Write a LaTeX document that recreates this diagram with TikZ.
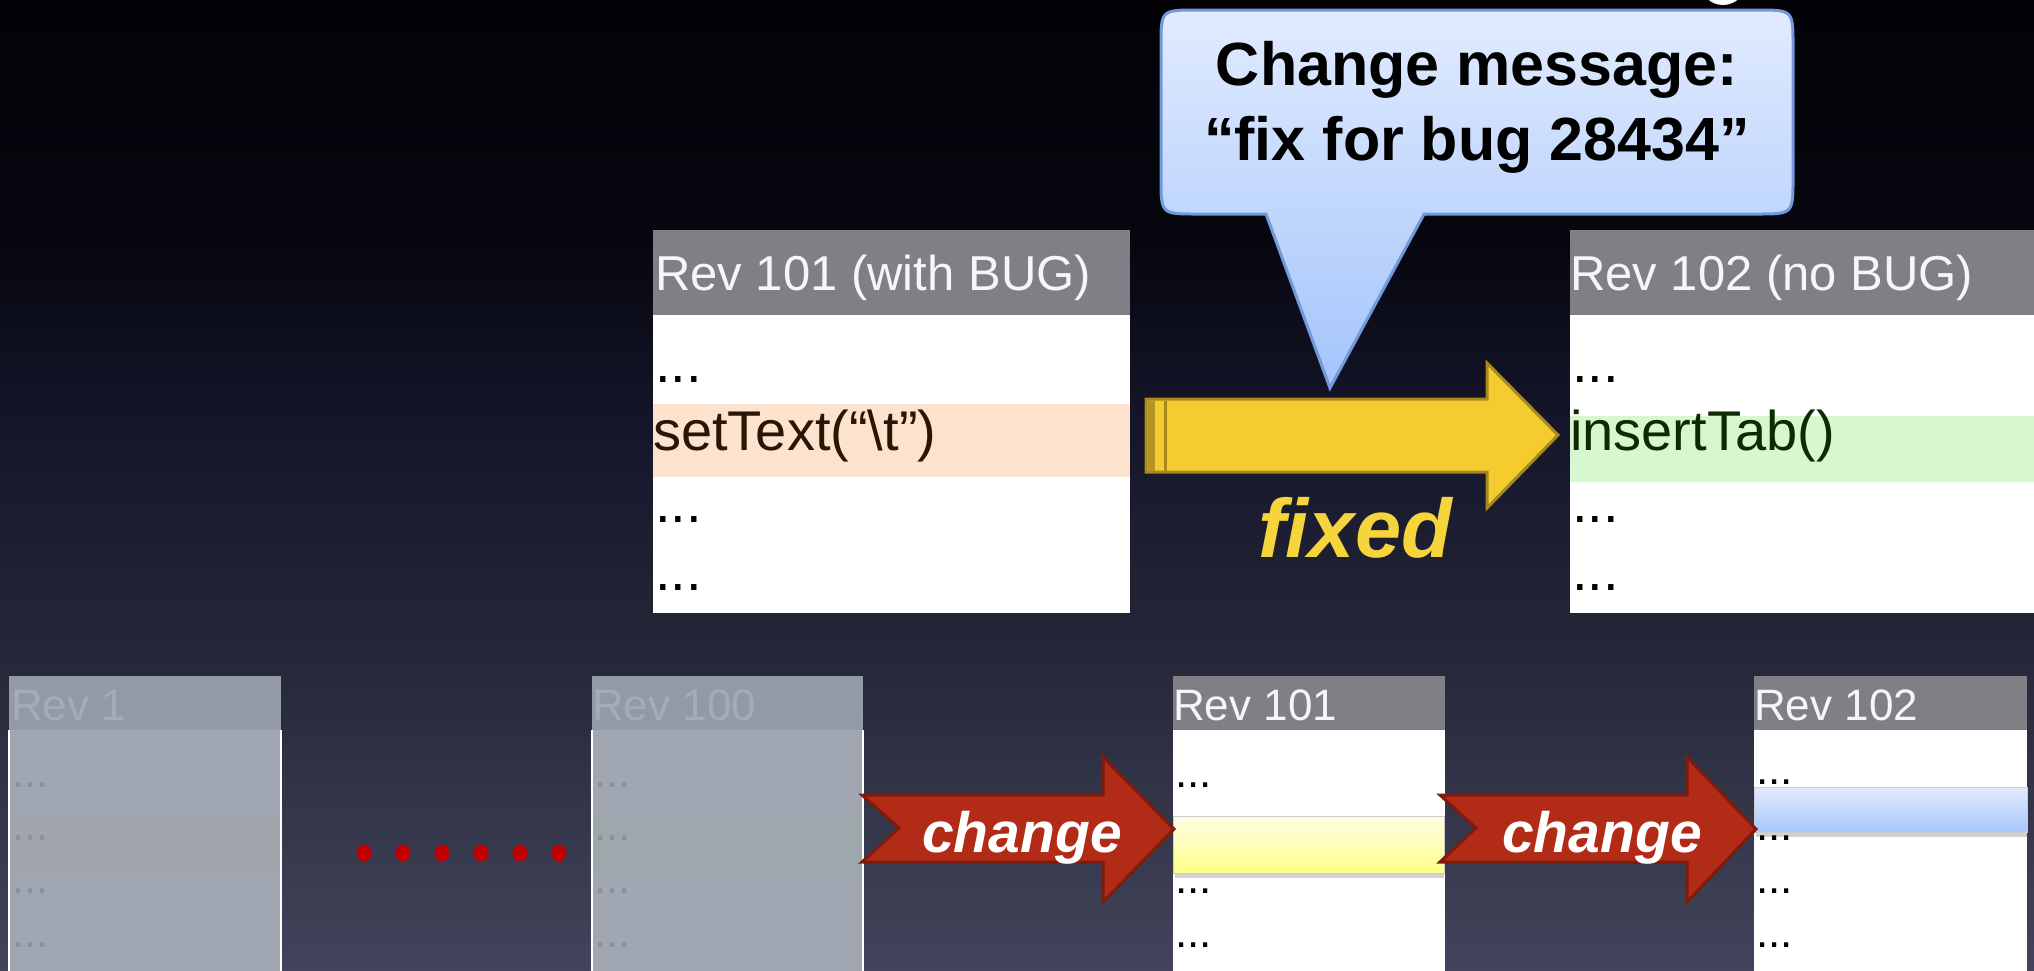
\documentclass[tikz,border=0pt]{standalone}
\usepackage{fontspec}
\setmainfont{Liberation Sans}
\usetikzlibrary{calc}

% palette
\definecolor{bgA}{HTML}{020207}
\definecolor{bgB}{HTML}{06060F}
\definecolor{bgC}{HTML}{15162A}
\definecolor{bgD}{HTML}{262839}
\definecolor{bgE}{HTML}{42445B}
\definecolor{hdrfill}{HTML}{807F85}
\definecolor{hdrtext}{HTML}{F6F6F6}
\definecolor{bugband}{HTML}{FDE3CD}
\definecolor{bugtext}{HTML}{2A1606}
\definecolor{okband}{HTML}{D6F7CF}
\definecolor{oktext}{HTML}{0D2A00}
\definecolor{bubtop}{HTML}{E1EBFE}
\definecolor{bubbot}{HTML}{A4C4FB}
\definecolor{bubline}{HTML}{7399DB}
\definecolor{goldfill}{HTML}{F4CC2F}
\definecolor{goldline}{HTML}{A8891C}
\definecolor{golddark}{HTML}{B49520}
\definecolor{fixedtext}{HTML}{F6D43C}
\definecolor{redfill}{HTML}{B22B17}
\definecolor{redline}{HTML}{7D1B0C}
\definecolor{dotred}{HTML}{C00000}
\definecolor{fadehdr}{HTML}{939AA7}
\definecolor{fadebody}{HTML}{A0A7B2}
\definecolor{fadebandA}{HTML}{A1A5AB}
\definecolor{fadebandB}{HTML}{9CA8AC}
\definecolor{fadetext}{HTML}{A5ACB7}
\definecolor{fadedots}{HTML}{8A919D}
\definecolor{yelltop}{HTML}{FEFEE6}
\definecolor{yellbot}{HTML}{FFFF88}
\definecolor{bluetop}{HTML}{E2EBFD}
\definecolor{bluebot}{HTML}{A8C7FB}

% background: dark at the top, slate towards the bottom
\pgfdeclareverticalshading{bgshade}{100bp}{%
  color(0bp)=(bgE); color(25bp)=(bgE); color(41bp)=(bgD);
  color(52.8bp)=(bgC); color(63.1bp)=(bgB); color(75bp)=(bgA); color(100bp)=(bgA)}

\tikzset{
  hdrlabel/.style={anchor=base west, inner sep=0pt, text=hdrtext,
    font=\fontsize{49}{49}\selectfont},
  smallhdr/.style={anchor=base west, inner sep=0pt, text=hdrtext,
    font=\fontsize{44}{44}\selectfont},
  fadehdrlabel/.style={smallhdr, text=fadetext},
  codeline/.style={anchor=base west, inner sep=0pt,
    font=\fontsize{56}{56}\selectfont},
  smalldots/.style={anchor=base west, inner sep=0pt,
    font=\fontsize{44}{44}\selectfont},
  fadedotlabel/.style={smalldots, text=fadedots},
  msgline/.style={anchor=base, inner sep=0pt,
    font=\fontsize{61}{61}\selectfont\bfseries},
  arrowlabel/.style={anchor=base, inner sep=0pt, text=white,
    font=\fontsize{57}{57}\selectfont\bfseries\itshape},
  changearrow/.style={fill=redfill, draw=redline, line width=3pt, line join=miter},
  reddot/.style={fill=dotred, draw=none},
  fadeedge/.style={white, line width=1.5pt},
}

\begin{document}
\begin{tikzpicture}[x=1pt, y=-1pt]
\useasboundingbox (0,0) rectangle (2034,970);
\clip (0,0) rectangle (2034,970);
\fill[shading=bgshade] (0,0) rectangle (2034,970);

% partly hidden round shape at the upper edge
\fill[white] (1723,-18) circle[radius=23pt];

% ---------- upper pair: revision 101 and revision 102 ----------
% Rev 101 (with BUG)
\fill[white] (653,315) rectangle (1130,613);
\fill[hdrfill] (653,230) rectangle (1130,315);
\fill[bugband] (653,404) rectangle (1130,477);
\node[hdrlabel] (bugtitle) at (655,290) {Rev 101 (with BUG)};
\node[codeline] (bugA) at (655,382) {...};
\node[codeline, text=bugtext] (bugline) at (653,450) {setText(“{\textbackslash}t”)};
\node[codeline] (bugB) at (655,522) {...};
\node[codeline] (bugC) at (655,590) {...};

% Rev 102 (no BUG)
\fill[white] (1570,315) rectangle (2040,613);
\fill[hdrfill] (1570,230) rectangle (2040,315);
\fill[okband] (1570,416) rectangle (2040,482);
\node[hdrlabel] (oktitle) at (1570,290) {Rev 102 (no BUG)};
\node[codeline] (okA) at (1572,382) {...};
\node[codeline, text=oktext] (okline) at (1570,450) {insertTab()};
\node[codeline] (okB) at (1572,522) {...};
\node[codeline] (okC) at (1572,590) {...};

% fix arrow
\filldraw[fill=goldfill, draw=goldline, line width=3pt, line join=miter]
  (1146,399) -- (1487,399) -- (1487,363) -- (1558,435) -- (1487,508)
  -- (1487,472) -- (1146,472) -- cycle;
\fill[golddark] (1147.5,400.5) rectangle (1155,470.5);
\draw[goldline, line width=3pt] (1165,400.5) -- (1165,470.5);
\node[anchor=base, inner sep=0pt, text=fixedtext,
  font=\fontsize{83}{83}\selectfont\bfseries\itshape] (fixed) at (1355,557) {fixed};

% speech bubble with the change message
\shade[top color=bubtop, bottom color=bubbot, draw=bubline, line width=3pt]
  (1266,214) -- (1330,388) -- (1424,214) -- (1757,214)
  .. controls (1793,214) .. (1793,178) -- (1793,46)
  .. controls (1793,10) .. (1757,10) -- (1197,10)
  .. controls (1161,10) .. (1161,46) -- (1161,178)
  .. controls (1161,214) .. (1197,214) -- cycle;
\node[msgline] (msgA) at (1477,85) {Change message:};
\node[msgline] (msgB) at (1477,160) {“fix for bug 28434”};

% ---------- lower row: revision history ----------
% Rev 1 (faded)
\fill[fadebody] (9,730) rectangle (281,980);
\fill[fadehdr] (9,676) rectangle (281,730);
\fill[fadebandA] (9,815) rectangle (281,873);
\draw[fadeedge] (9,730) -- (9,975);
\draw[fadeedge] (281,730) -- (281,975);
\node[fadehdrlabel] (revone) at (11,720) {Rev 1};
\foreach \yy [count=\k] in {787,840,893,947}
  \node[fadedotlabel] (oneDots\k) at (12,\yy) {...};

% Rev 100 (faded)
\fill[fadebody] (592,730) rectangle (863,980);
\fill[fadehdr] (592,676) rectangle (863,730);
\fill[fadebandB] (592,815) rectangle (863,873);
\draw[fadeedge] (592,730) -- (592,975);
\draw[fadeedge] (863,730) -- (863,975);
\node[fadehdrlabel] (revhundred) at (592,720) {Rev 100};
\foreach \yy [count=\k] in {787,840,893,947}
  \node[fadedotlabel] (hundredDots\k) at (594,\yy) {...};

% dotted gap between Rev 1 and Rev 100
\foreach \xx [count=\k] in {364,403,442,481,520,559}
  \fill[reddot] (\xx,853) ellipse[x radius=7.5pt, y radius=8.5pt];

% Rev 101
\fill[white] (1173,730) rectangle (1445,980);
\fill[hdrfill] (1173,676) rectangle (1445,730);
\node[smallhdr] (revA) at (1173,720) {Rev 101};
\foreach \yy [count=\k] in {787,840,893,947}
  \node[smalldots] (aDots\k) at (1175,\yy) {...};
\fill[black, opacity=0.18] (1175,873) rectangle (1444,878);
\shade[top color=yelltop, bottom color=yellbot, draw=black!20, line width=1pt]
  (1173,816) rectangle (1444,873);

% Rev 102
\fill[white] (1754,730) rectangle (2027,980);
\fill[hdrfill] (1754,676) rectangle (2027,730);
\node[smallhdr] (revB) at (1754,720) {Rev 102};
\foreach \yy [count=\k] in {784,840,893,947}
  \node[smalldots] (bDots\k) at (1756,\yy) {...};
\fill[black, opacity=0.18] (1756,832) rectangle (2027,837);
\shade[top color=bluetop, bottom color=bluebot, draw=black!20, line width=1pt]
  (1754,787) rectangle (2027,832);

% change arrows
\filldraw[changearrow]
  (862,795) -- (1103,795) -- (1103,757) -- (1174,829) -- (1103,902)
  -- (1103,862) -- (862,862) -- (899,828) -- cycle;
\node[arrowlabel] (changeA) at (1022,852) {change};

\filldraw[changearrow]
  (1440,795) -- (1687,795) -- (1687,757) -- (1756,829) -- (1687,902)
  -- (1687,862) -- (1440,862) -- (1476,828) -- cycle;
\node[arrowlabel] (changeB) at (1602,852) {change};
\end{tikzpicture}
\end{document}
